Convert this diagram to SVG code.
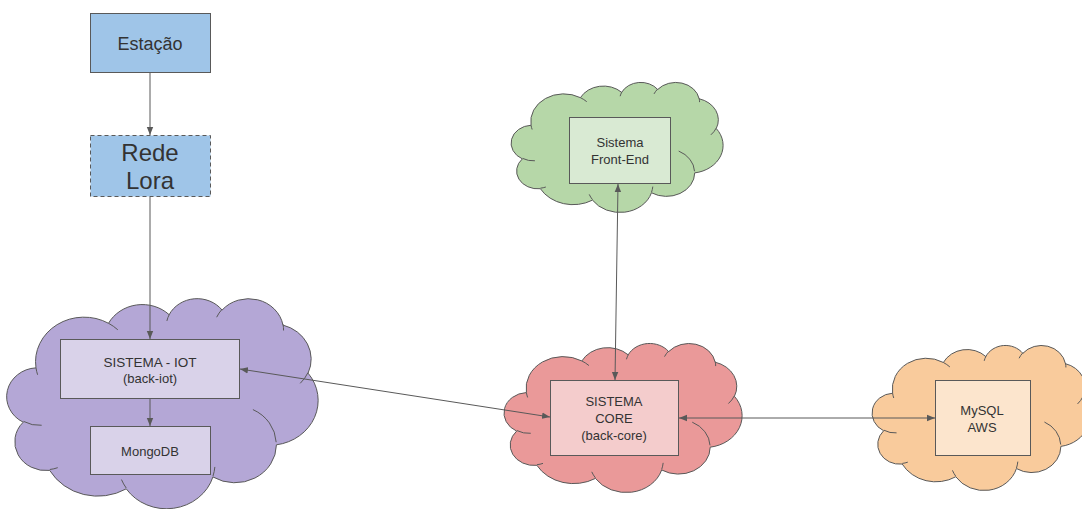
<svg xmlns="http://www.w3.org/2000/svg" xmlns:xlink="http://www.w3.org/1999/xlink" width="1082" height="509" viewBox="0 0 1082 509">
  <style>
    .box { stroke: #595959; stroke-width: 1; }
    .cloud-shape { stroke: #595959; stroke-width: 1; vector-effect: non-scaling-stroke; }
    .cloud-lines { fill: none; stroke: #595959; stroke-width: 1; vector-effect: non-scaling-stroke; }
    .lbl { font-family: "Liberation Sans", Arial, sans-serif; font-size: 13px; fill: #333333; text-anchor: middle; }
    .conn { fill: none; stroke: #595959; stroke-width: 1; }
  </style>
  <defs>
    <!-- cloud in a 100x100 box, scaled per node -->
    <path id="cloud-outline" class="cloud-shape" d="M9.03 33.26 A15.63 21.27 0 0 1 32.42 12.04 A12.35 16.82 0 0 1 51.98 7.94 A10.10 13.76 0 0 1 69.06 5.74 A11.24 15.27 0 0 1 88.70 12.90 A12.35 16.84 0 0 1 96.80 35.78 A15.68 21.34 0 0 1 86.59 69.91 A13.39 18.21 0 0 1 66.10 85.21 A15.63 21.33 0 0 1 38.15 90.88 A17.87 24.41 0 0 1 13.45 82.10 A10.09 13.70 0 0 1 4.90 59.14 A10.06 13.76 0 0 1 9.03 33.26 Z"/>
    <path id="cloud-inner" class="cloud-lines" d="M10.86 60.60 A10.06 13.76 0 0 1 5.00 58.75 M16.04 80.79 A10.09 13.70 0 0 1 13.48 81.67 M38.14 90.49 A15.63 21.33 0 0 1 36.60 86.46 M66.73 80.44 A15.63 21.33 0 0 1 66.11 84.86 M79.00 53.13 A13.39 18.21 0 0 1 86.51 68.67 M96.76 35.54 A12.35 16.84 0 0 1 94.26 40.64 M88.71 12.56 A11.24 15.27 0 0 1 88.89 15.48 M67.31 9.15 A11.24 15.27 0 0 1 69.03 5.42 M51.25 10.93 A10.10 13.76 0 0 1 52.08 7.71 M32.41 12.02 A15.63 21.27 0 0 1 35.42 15.14 M9.55 36.55 A15.63 21.27 0 0 1 9.03 33.26"/>
    <marker id="arrow" viewBox="0 0 10 10" refX="10" refY="5" markerWidth="8" markerHeight="8" markerUnits="userSpaceOnUse" orient="auto-start-reverse">
      <path d="M0 1 L10 5 L0 9 Z" fill="#595959"/>
    </marker>
  </defs>

  <g id="estacao">
    <rect class="box" x="90.5" y="13.5" width="120" height="59" fill="#9fc5e8"/>
    <text class="lbl" x="150" y="50" style="font-size:18px">Estação</text>
  </g>

  <g id="rede-lora">
    <rect class="box" x="90.5" y="135.5" width="120" height="61" fill="#9fc5e8" stroke-dasharray="4 3"/>
    <text class="lbl" x="150" y="161" style="font-size:24px">Rede</text>
    <text class="lbl" x="150" y="189" style="font-size:24px">Lora</text>
  </g>

  <g id="sistema-iot">
    <g transform="translate(8 298) scale(3.10 2.10)" fill="#b4a7d6">
      <use xlink:href="#cloud-outline" href="#cloud-outline"/>
      <use xlink:href="#cloud-inner" href="#cloud-inner"/>
    </g>
    <rect class="box" x="60.5" y="339.5" width="179" height="59" fill="#d9d2e9"/>
    <text class="lbl" x="150" y="367" style="font-size:13.5px">SISTEMA - IOT</text>
    <text class="lbl" x="150" y="383">(back-iot)</text>
  </g>

  <g id="mongodb">
    <rect class="box" x="90.5" y="426.5" width="120" height="48" fill="#d9d2e9"/>
    <text class="lbl" x="150" y="456">MongoDB</text>
  </g>

  <g id="front-end">
    <g transform="translate(512 82) scale(2.11 1.30)" fill="#b6d7a8">
      <use xlink:href="#cloud-outline" href="#cloud-outline"/>
      <use xlink:href="#cloud-inner" href="#cloud-inner"/>
    </g>
    <rect class="box" x="569.5" y="117.5" width="101" height="66" fill="#d9ead3"/>
    <text class="lbl" x="620" y="147">Sistema</text>
    <text class="lbl" x="620" y="164">Front-End</text>
  </g>

  <g id="sistema-core">
    <g transform="translate(505 343) scale(2.37 1.49)" fill="#ea9999">
      <use xlink:href="#cloud-outline" href="#cloud-outline"/>
      <use xlink:href="#cloud-inner" href="#cloud-inner"/>
    </g>
    <rect class="box" x="550.5" y="380.5" width="128" height="75" fill="#f4cccc"/>
    <text class="lbl" x="614" y="406">SISTEMA</text>
    <text class="lbl" x="614" y="423">CORE</text>
    <text class="lbl" x="614" y="440">(back-core)</text>
  </g>

  <g id="mysql-aws">
    <g transform="translate(873 345) scale(2.17 1.45)" fill="#f9cb9c">
      <use xlink:href="#cloud-outline" href="#cloud-outline"/>
      <use xlink:href="#cloud-inner" href="#cloud-inner"/>
    </g>
    <rect class="box" x="935.5" y="380.5" width="95" height="75" fill="#fce5cd"/>
    <text class="lbl" x="982" y="415">MySQL</text>
    <text class="lbl" x="982" y="432">AWS</text>
  </g>

  <g id="connectors">
    <line class="conn" x1="150" y1="73" x2="150" y2="135" marker-end="url(#arrow)"/>
    <line class="conn" x1="150" y1="197" x2="150" y2="339" marker-end="url(#arrow)"/>
    <line class="conn" x1="150" y1="399" x2="150" y2="426" marker-end="url(#arrow)"/>
    <line class="conn" x1="240" y1="369" x2="550" y2="417" marker-start="url(#arrow)" marker-end="url(#arrow)"/>
    <line class="conn" x1="618" y1="184" x2="615" y2="380" marker-start="url(#arrow)" marker-end="url(#arrow)"/>
    <line class="conn" x1="679" y1="418" x2="935" y2="418" marker-start="url(#arrow)" marker-end="url(#arrow)"/>
  </g>
</svg>
